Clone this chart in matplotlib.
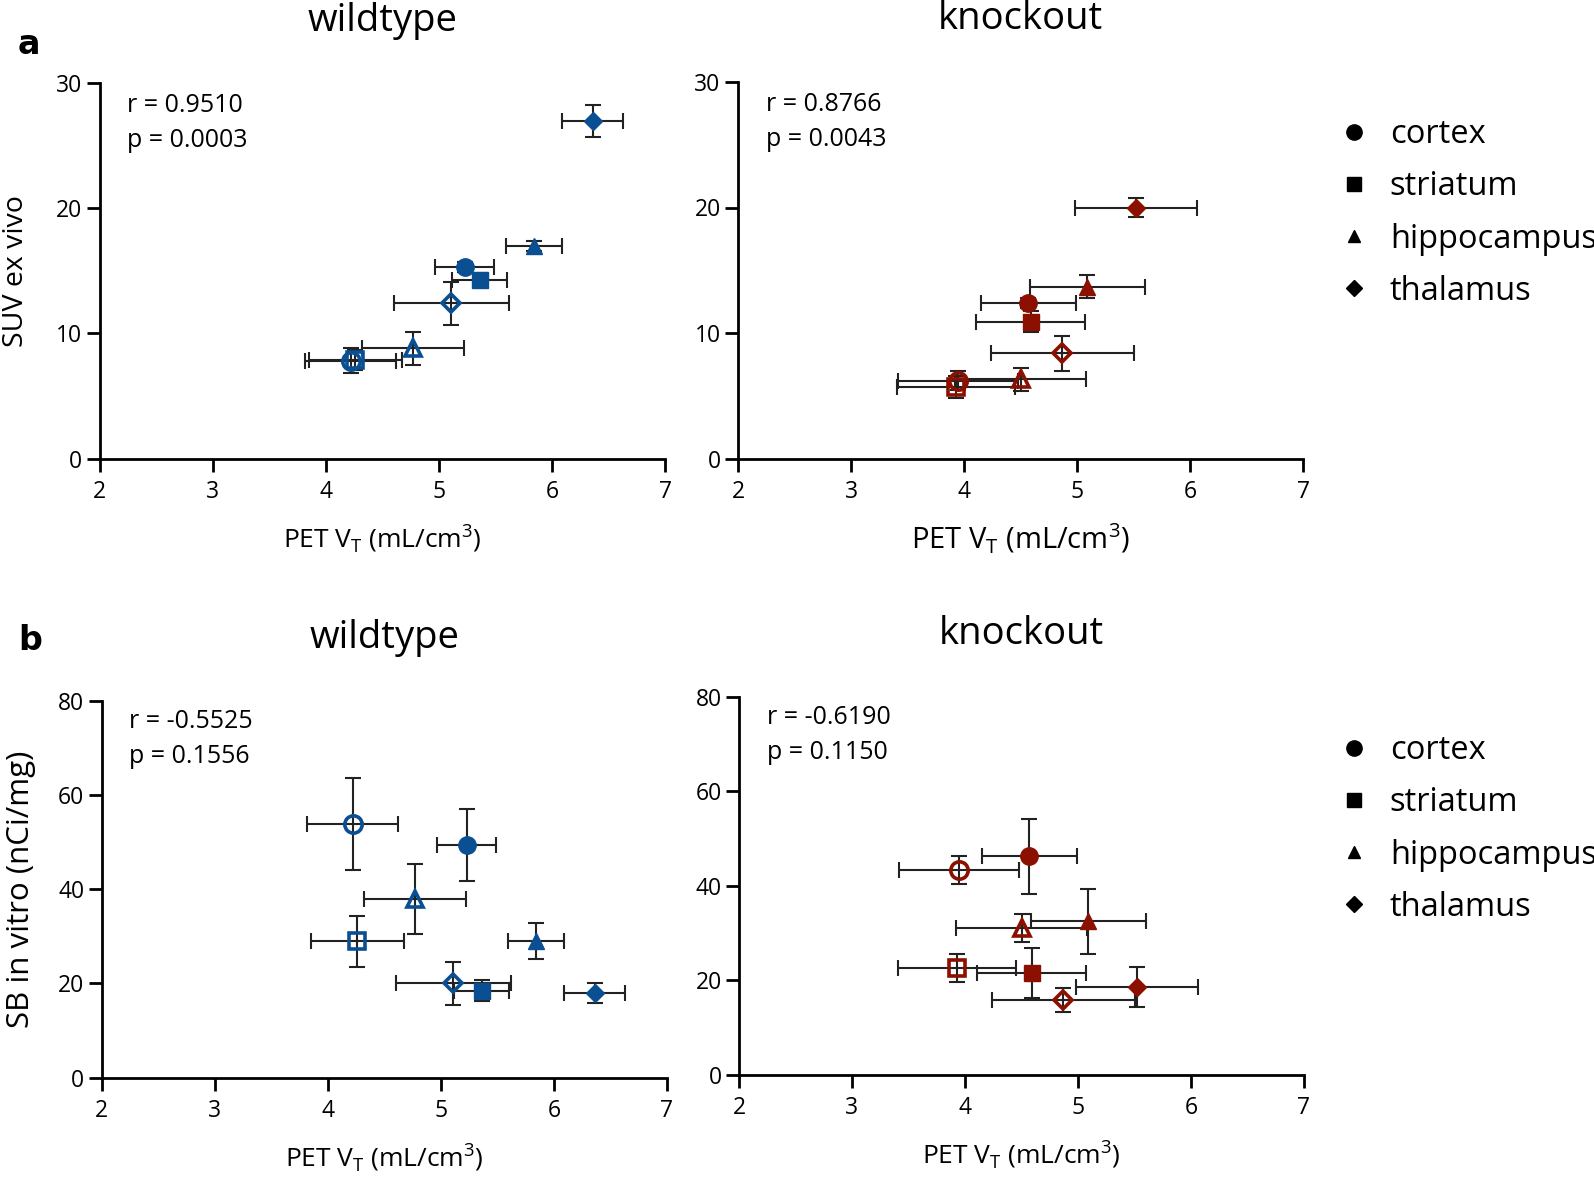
import matplotlib
matplotlib.use("Agg")
import matplotlib.pyplot as plt
from matplotlib.lines import Line2D

plt.rcParams['font.family'] = ['Open Sans', 'DejaVu Sans']

regions = ["cortex", "striatum", "hippocampus", "thalamus"]
markers = ["o", "s", "^", "D"]

# PET VT (x) values, shared between panels a and b
wt_x_filled = [5.23, 5.36, 5.84, 6.36]
wt_xerr_filled = [0.26, 0.24, 0.25, 0.27]
wt_x_open = [4.22, 4.26, 4.77, 5.11]
wt_xerr_open = [0.40, 0.41, 0.45, 0.51]

ko_x_filled = [4.57, 4.59, 5.09, 5.52]
ko_xerr_filled = [0.42, 0.48, 0.51, 0.54]
ko_x_open = [3.95, 3.93, 4.50, 4.87]
ko_xerr_open = [0.53, 0.52, 0.58, 0.63]

# panel a: SUV ex vivo
a_wt_y_filled = [15.3, 14.3, 17.0, 27.0]
a_wt_yerr_filled = [0.4, 0.5, 0.4, 1.3]
a_wt_y_open = [7.8, 7.9, 8.8, 12.4]
a_wt_yerr_open = [1.0, 0.8, 1.3, 1.7]

a_ko_y_filled = [12.4, 10.9, 13.7, 20.0]
a_ko_yerr_filled = [0.4, 0.85, 0.9, 0.75]
a_ko_y_open = [6.2, 5.7, 6.3, 8.4]
a_ko_yerr_open = [0.75, 0.85, 0.9, 1.4]

# panel b: SB in vitro
b_wt_y_filled = [49.4, 18.5, 29.0, 18.0]
b_wt_yerr_filled = [7.6, 2.3, 3.8, 2.1]
b_wt_y_open = [53.8, 29.0, 37.9, 20.0]
b_wt_yerr_open = [9.8, 5.4, 7.4, 4.6]

b_ko_y_filled = [46.2, 21.6, 32.5, 18.5]
b_ko_yerr_filled = [7.9, 5.3, 6.9, 4.2]
b_ko_y_open = [43.3, 22.6, 31.0, 15.8]
b_ko_yerr_open = [2.9, 3.0, 3.0, 2.5]

stats_r = {"a_wt": "r = 0.9510", "a_ko": "r = 0.8766",
           "b_wt": "r = -0.5525", "b_ko": "r = -0.6190"}
stats_p = {"a_wt": "p = 0.0003", "a_ko": "p = 0.0043",
           "b_wt": "p = 0.1556", "b_ko": "p = 0.1150"}

BLUE = "#0b4f93"
RED = "#8c1000"

W, H = 1594, 1180
fig = plt.figure(figsize=(W / 100, H / 100), dpi=100)


def ax_at(x0, x1, ytop, ybot):
    return fig.add_axes([x0 / W, 1 - ybot / H, (x1 - x0) / W, (ybot - ytop) / H])


ax_tl = ax_at(99.6, 665, 83.4, 458.5)
ax_tr = ax_at(738, 1303, 82, 458.5)
ax_bl = ax_at(101.7, 667, 701, 1077.6)
ax_br = ax_at(739, 1304, 697, 1074.5)

msize = {"o": 12.5, "s": 11, "^": 11, "D": 9}


def draw(ax, xf, xef, yf, yef, xo, xeo, yo, yeo, color):
    for i, m in enumerate(markers):
        ax.errorbar(xo[i], yo[i], xerr=xeo[i], yerr=yeo[i], fmt='none',
                    ecolor='#222222', elinewidth=1.5, capsize=6, capthick=1.5, zorder=2)
        ax.plot(xo[i], yo[i], marker=m, ms=msize[m], mfc='none', mec=color,
                mew=2.6, ls='none', zorder=3)
        ax.errorbar(xf[i], yf[i], xerr=xef[i], yerr=yef[i], fmt='none',
                    ecolor='#222222', elinewidth=1.5, capsize=6, capthick=1.5, zorder=2)
        ax.plot(xf[i], yf[i], marker=m, ms=msize[m], mfc=color, mec=color,
                mew=1, ls='none', zorder=3)


def style(ax, ymax, ystep, key, xlabel_size, ry, py):
    ax.set_xlim(2, 7)
    ax.set_ylim(0, ymax)
    ax.set_xticks(range(2, 8))
    ax.set_yticks(range(0, ymax + 1, ystep))
    for s in ["top", "right"]:
        ax.spines[s].set_visible(False)
    for s in ["left", "bottom"]:
        ax.spines[s].set_linewidth(2)
    ax.tick_params(direction='out', length=9.5, width=2, labelsize=16.5)
    ax.tick_params(axis='x', pad=6)
    ax.tick_params(axis='y', pad=3)
    ax.set_xlabel(r"PET V$_\mathregular{T}$ (mL/cm$^\mathregular{3}$)",
                  fontsize=xlabel_size, labelpad=13)
    ax.text(0.049, ry, stats_r[key], transform=ax.transAxes, fontsize=18,
            va='center', ha='left')
    ax.text(0.049, py, stats_p[key], transform=ax.transAxes, fontsize=18,
            va='center', ha='left')
    ax.patch.set_alpha(0)


draw(ax_tl, wt_x_filled, wt_xerr_filled, a_wt_y_filled, a_wt_yerr_filled,
     wt_x_open, wt_xerr_open, a_wt_y_open, a_wt_yerr_open, BLUE)
draw(ax_tr, ko_x_filled, ko_xerr_filled, a_ko_y_filled, a_ko_yerr_filled,
     ko_x_open, ko_xerr_open, a_ko_y_open, a_ko_yerr_open, RED)
draw(ax_bl, wt_x_filled, wt_xerr_filled, b_wt_y_filled, b_wt_yerr_filled,
     wt_x_open, wt_xerr_open, b_wt_y_open, b_wt_yerr_open, BLUE)
draw(ax_br, ko_x_filled, ko_xerr_filled, b_ko_y_filled, b_ko_yerr_filled,
     ko_x_open, ko_xerr_open, b_ko_y_open, b_ko_yerr_open, RED)

style(ax_tl, 30, 10, "a_wt", 19, 0.941, 0.847)
style(ax_tr, 30, 10, "a_ko", 21, 0.941, 0.847)
style(ax_bl, 80, 20, "b_wt", 19, 0.945, 0.852)
style(ax_br, 80, 20, "b_ko", 19, 0.945, 0.852)

ax_tl.set_ylabel("SUV ex vivo", fontsize=20.5, labelpad=19)
ax_bl.set_ylabel("SB in vitro (nCi/mg)", fontsize=22.5, labelpad=16)

for ax, title in [(ax_tl, "wildtype"), (ax_tr, "knockout"),
                  (ax_bl, "wildtype"), (ax_br, "knockout")]:
    ax.set_title(title, fontsize=27.5, pad=38)

fig.text(18 / W, 1 - 45 / H, "a", fontsize=24, fontweight='bold', va='center', ha='left',
         family='DejaVu Sans')
fig.text(18 / W, 1 - 640 / H, "b", fontsize=24, fontweight='bold', va='center', ha='left',
         family='DejaVu Sans')

handles = [Line2D([], [], marker=m, color='black', ls='none',
                  ms={"o": 11, "s": 10, "^": 9, "D": 8}[m]) for m in markers]
for anchor_y in (89, 705):
    fig.legend(handles, regions, loc='upper left',
               bbox_to_anchor=(1305 / W, 1 - anchor_y / H),
               frameon=False, fontsize=23.5, handletextpad=0.5,
               labelspacing=0.585, handlelength=1.2)

fig.savefig("out.png", dpi=100)
